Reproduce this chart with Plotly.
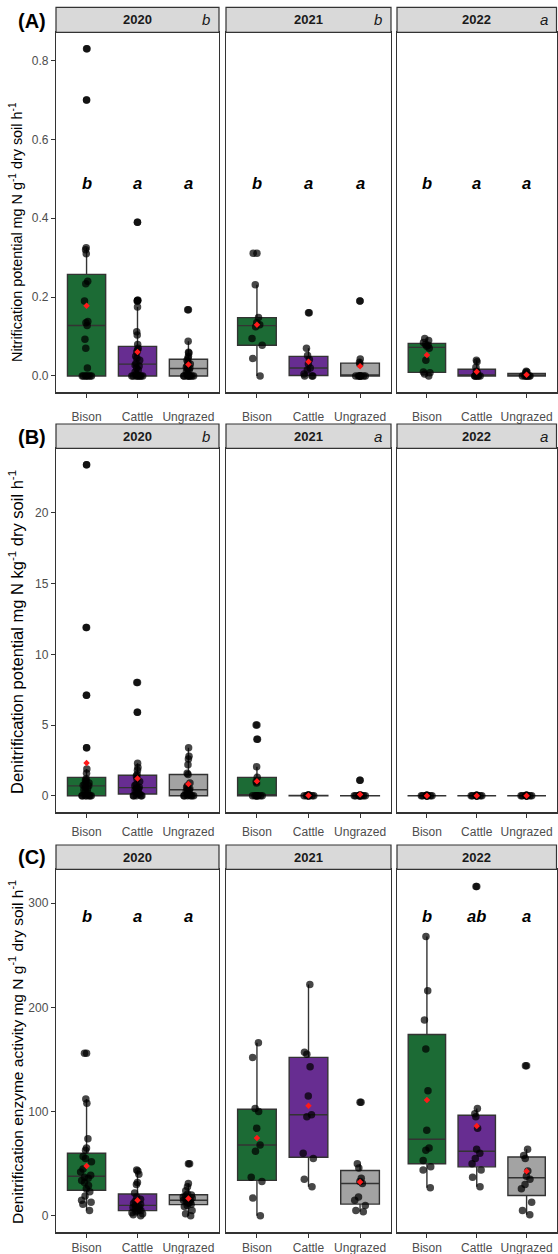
import numpy as np
import plotly.graph_objects as go

categories = ["Bison", "Cattle", "Ungrazed"]
years = ["2020", "2021", "2022"]
box_colors = ["#1c6b35", "#672d91", "#a3a3a3"]

# (A) Nitrification potential
nit_2020_bison = [0.83, 0.70, 0.325, 0.32, 0.31, 0.24, 0.234, 0.19, 0.138, 0.135, 0.128, 0.093, 0.07, 0.02, 0, 0, 0, 0, 0, 0, 0]
nit_2020_cattle = [0.39, 0.192, 0.19, 0.175, 0.112, 0.104, 0.08, 0.07, 0.065, 0.06, 0.05, 0.045, 0.04, 0.032,
                   0.028, 0.025, 0.02, 0.015, 0.01, 0.005, 0, 0, 0, 0, 0, 0, 0, 0]
nit_2020_ungrazed = [0.168, 0.088, 0.06, 0.058, 0.05, 0.045, 0.04, 0.035, 0.03, 0.025, 0.022, 0.02, 0.018, 0.015,
                     0.01, 0.005, 0, 0, 0, 0, 0, 0, 0, 0]
nit_2021_bison = [0.311, 0.231, 0.148, 0.135, 0.13, 0.125, 0.095, 0.078, 0.044, 0.0]
nit_2021_cattle = [0.16, 0.07, 0.052, 0.042, 0.03, 0.02, 0.015, 0.005, 0, 0, 0]
nit_2021_ungrazed = [0.19, 0.043, 0.035, 0.03, 0, 0, 0, 0, 0, 0, 0, 0]
nit_2022_bison = [0.095, 0.09, 0.085, 0.08, 0.078, 0.075, 0.07, 0.04, 0.01, 0.008, 0.005, 0.0]
nit_2022_cattle = [0.04, 0.036, 0.022, 0.012, 0.01, 0.005, 0, 0, 0, 0, 0, 0]
nit_2022_ungrazed = [0.012, 0.01, 0.008, 0.005, 0.002, 0, 0, 0, 0, 0, 0, 0]

# (B) Denitrification potential
den_2020_bison = [23.4, 11.9, 7.1, 3.4, 1.9, 1.6, 1.2, 1.1, 1.0, 0.9, 0.8, 0.75, 0.7, 0.6, 0.5, 0.4, 0.3, 0.2,
                  0, 0, 0, 0, 0, 0, 0]
den_2020_cattle = [8.0, 5.9, 2.3, 2.0, 1.8, 1.5, 1.4, 1.2, 1.0, 0.8, 0.7, 0.6, 0.55, 0.5, 0.4, 0.3, 0.2, 0.15, 0.1,
                   0, 0, 0, 0, 0]
den_2020_ungrazed = [3.4, 2.8, 2.6, 2.2, 1.6, 1.5, 0.9, 0.7, 0.6, 0.5, 0.45, 0.4, 0.3, 0.2, 0.1, 0.05, 0, 0, 0, 0, 0, 0]
den_2021_bison = [5.0, 4.0, 2.05, 1.3, 1.0, 0.9, 0, 0, 0, 0, 0, 0, 0, 0]
den_2021_cattle = [0.06, 0.03, 0.02, 0.01, 0, 0, 0, 0, 0, 0, 0, 0]
den_2021_ungrazed = [1.1, 0.05, 0.02, 0, 0, 0, 0, 0, 0, 0, 0, 0]
den_2022_bison = [0.03, 0.02, 0.01, 0, 0, 0, 0, 0, 0, 0, 0, 0]
den_2022_cattle = [0.03, 0.02, 0.01, 0, 0, 0, 0, 0, 0, 0, 0, 0]
den_2022_ungrazed = [0.03, 0.02, 0.01, 0, 0, 0, 0, 0, 0, 0, 0, 0]

# (C) Denitrification enzyme activity
dea_2020_bison = [156, 112, 108, 74, 65, 63, 57, 55, 52, 45, 42, 39, 37, 36, 34, 32, 29, 26, 23, 19, 15, 13, 11, 5]
dea_2020_cattle = [44, 43, 40, 32, 30, 22, 18, 16, 14, 12, 11, 10, 9, 8, 7, 6, 5, 5, 4, 3, 2, 1, 0]
dea_2020_ungrazed = [50, 31, 28, 24, 21, 20, 19, 18, 17, 16, 15, 15, 14, 13, 12, 11, 10, 9, 5, 2, 0]
dea_2021_bison = [166, 152, 103, 100, 84, 68, 62, 37, 33, 17, 0]
dea_2021_cattle = [222, 157, 155, 143, 115, 97, 95, 60, 55, 35, 28]
dea_2021_ungrazed = [109, 50, 46, 36, 33, 31, 18, 15, 10, 5, 4]
dea_2022_bison = [268, 216, 188, 160, 120, 82, 65, 63, 53, 47, 44, 27]
dea_2022_cattle = [316, 103, 98, 95, 84, 64, 60, 55, 50, 44, 37, 28]
dea_2022_ungrazed = [144, 64, 58, 55, 43, 38, 35, 30, 26, 13, 5, 1]

panel_data = [
    [[nit_2020_bison, nit_2020_cattle, nit_2020_ungrazed],
     [nit_2021_bison, nit_2021_cattle, nit_2021_ungrazed],
     [nit_2022_bison, nit_2022_cattle, nit_2022_ungrazed]],
    [[den_2020_bison, den_2020_cattle, den_2020_ungrazed],
     [den_2021_bison, den_2021_cattle, den_2021_ungrazed],
     [den_2022_bison, den_2022_cattle, den_2022_ungrazed]],
    [[dea_2020_bison, dea_2020_cattle, dea_2020_ungrazed],
     [dea_2021_bison, dea_2021_cattle, dea_2021_ungrazed],
     [dea_2022_bison, dea_2022_cattle, dea_2022_ungrazed]],
]

strip_letters = [["b", "b", "a"], ["b", "a", "a"], ["", "", ""]]
group_letters = [
    [["b", "a", "a"], ["b", "a", "a"], ["b", "a", "a"]],
    [None, None, None],
    [["b", "a", "a"], None, ["b", "ab", "a"]],
]
letter_y = [0.49, None, 288]

y_titles = [
    "Nitrification potential mg N g<sup>-1</sup> dry soil h<sup>-1</sup>",
    "Denitrification potential mg N kg<sup>-1</sup> dry soil h<sup>-1</sup>",
    "Denitrification enzyme activity mg N g<sup>-1</sup> dry soil h<sup>-1</sup>",
]
panel_tags = ["(A)", "(B)", "(C)"]

y_ranges = [[-0.0415, 0.8715], [-1.17, 24.57], [-15.8, 332.5]]
y_ticks = [[0, 0.2, 0.4, 0.6, 0.8], [0, 5, 10, 15, 20], [0, 100, 200, 300]]
y_ticktext = [["0.0", "0.2", "0.4", "0.6", "0.8"], ["0", "5", "10", "15", "20"], ["0", "100", "200", "300"]]

# ---- layout geometry (page pixels) ----
W, H = 558, 1254
col_px = [(56, 219), (226, 391), (397, 556.5)]
row_px = [(32.3, 392.3), (448.3, 812.3), (869.3, 1232.3)]   # (top, bottom)
strip_px = [(7.3, 32.3), (424.0, 448.3), (845.0, 869.3)]     # (top, bottom)
title_cy = [232, 632, 1052]
title_size = [14.4, 16.5, 15.5]
tag_cy = [21, 437, 857]
x_standoff = [9, 4, 0]


def px_x(v):
    return v / W


def px_y(v):
    return 1 - v / H


FONT = "Arial, Liberation Sans, sans-serif"
EDGE = "#333333"

fig = go.Figure()
layout = dict(
    width=W, height=H, margin=dict(l=0, r=0, t=0, b=0, autoexpand=False),
    paper_bgcolor="white", plot_bgcolor="white",
    showlegend=False, boxmode="overlay",
    font=dict(family=FONT, color="black"),
)
shapes = []
annotations = []

for r in range(3):
    for c in range(3):
        idx = r * 3 + c + 1
        xa = "x" if idx == 1 else f"x{idx}"
        ya = "y" if idx == 1 else f"y{idx}"
        groups = panel_data[r][c]
        for k, cat in enumerate(categories):
            vals = groups[k]
            fig.add_trace(go.Box(
                x=[cat] * len(vals), y=vals, xaxis=xa, yaxis=ya,
                width=0.75, fillcolor=box_colors[k],
                line=dict(color=EDGE, width=1.4), whiskerwidth=0,
                boxpoints="all", jitter=0.35, pointpos=0,
                marker=dict(color="rgba(0,0,0,0.72)", size=7.5),
                quartilemethod="linear", hoverinfo="skip", showlegend=False,
            ))
            fig.add_trace(go.Box(
                x=[cat] * len(vals), y=vals, xaxis=xa, yaxis=ya,
                width=0.75, fillcolor="rgba(0,0,0,0)",
                line=dict(color="rgba(0,0,0,0)", width=0), whiskerwidth=0,
                boxpoints="outliers", jitter=0, pointpos=0,
                marker=dict(color="rgba(0,0,0,0.72)", size=7.5),
                quartilemethod="linear", hoverinfo="skip", showlegend=False,
            ))
        fig.add_trace(go.Scatter(
            x=categories, y=[float(np.mean(g)) for g in groups], xaxis=xa, yaxis=ya,
            mode="markers", marker=dict(symbol="diamond", color="#ff1a1a", size=5),
            hoverinfo="skip", showlegend=False,
        ))

        x0, x1 = col_px[c]
        yt, yb = row_px[r]
        layout["xaxis" if idx == 1 else f"xaxis{idx}"] = dict(
            domain=[px_x(x0), px_x(x1)], anchor=ya, type="category",
            categoryorder="array", categoryarray=categories, range=[-0.6, 2.6],
            showline=True, mirror=True, linecolor=EDGE, linewidth=1.2,
            ticks="outside", ticklen=4, tickcolor=EDGE, tickwidth=1,
            ticklabelstandoff=x_standoff[r],
            tickfont=dict(size=12, color="#4d4d4d", family=FONT),
            showgrid=False, zeroline=False, fixedrange=True, automargin=False,
        )
        layout["yaxis" if idx == 1 else f"yaxis{idx}"] = dict(
            domain=[px_y(yb), px_y(yt)], anchor=xa, range=y_ranges[r],
            tickvals=y_ticks[r], ticktext=y_ticktext[r],
            showticklabels=(c == 0), ticks="outside" if c == 0 else "",
            ticklen=4, tickcolor=EDGE, tickwidth=1,
            tickfont=dict(size=12, color="#4d4d4d", family=FONT),
            showline=True, mirror=True, linecolor=EDGE, linewidth=1.2,
            showgrid=False, zeroline=False, fixedrange=True, automargin=False,
        )

        # strip
        s0, s1 = strip_px[r]
        shapes.append(dict(type="rect", xref="paper", yref="paper",
                           x0=px_x(x0), x1=px_x(x1), y0=px_y(s1), y1=px_y(s0),
                           fillcolor="#d9d9d9", line=dict(color=EDGE, width=1.2), layer="above"))
        annotations.append(dict(xref="paper", yref="paper", x=px_x((x0 + x1) / 2), y=px_y((s0 + s1) / 2),
                                text=f"<b>{years[c]}</b>", showarrow=False,
                                font=dict(size=13, color="#1a1a1a", family=FONT),
                                xanchor="center", yanchor="middle"))
        if strip_letters[r][c]:
            annotations.append(dict(xref="paper", yref="paper", x=px_x(x1 - 13), y=px_y((s0 + s1) / 2),
                                    text=f"<i>{strip_letters[r][c]}</i>", showarrow=False,
                                    font=dict(size=15, color="#1a1a1a", family=FONT),
                                    xanchor="center", yanchor="middle"))
        gl = group_letters[r][c]
        if gl:
            for k, cat in enumerate(categories):
                annotations.append(dict(xref=xa, yref=ya, x=cat, y=letter_y[r],
                                        text=f"<b><i>{gl[k]}</i></b>", showarrow=False,
                                        font=dict(size=16.5, color="black", family=FONT),
                                        xanchor="center", yanchor="middle"))

    annotations.append(dict(xref="paper", yref="paper", x=px_x(16), y=px_y(title_cy[r]),
                            text=y_titles[r], textangle=-90, showarrow=False,
                            font=dict(size=title_size[r], color="black", family=FONT),
                            xanchor="center", yanchor="middle"))
    annotations.append(dict(xref="paper", yref="paper", x=px_x(32), y=px_y(tag_cy[r]),
                            text=f"<b>{panel_tags[r]}</b>", showarrow=False,
                            font=dict(size=20, color="black", family=FONT),
                            xanchor="center", yanchor="middle"))

layout["shapes"] = shapes
layout["annotations"] = annotations
fig.update_layout(**layout)
fig.write_html(
    "out.html",
    config={"displayModeBar": False, "staticPlot": True},
    post_script="document.body.style.margin='0px';document.body.style.overflow='hidden';",
)
